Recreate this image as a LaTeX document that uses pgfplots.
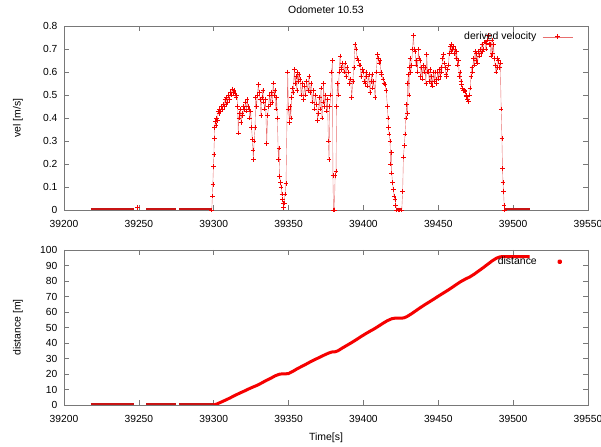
\documentclass[border=0pt]{standalone}
\usepackage{fontspec}
\setmainfont{Liberation Sans}
\usepackage{pgfplots}
\usepackage{pgfplotstable}
\pgfplotsset{compat=1.18}
\definecolor{axgray}{RGB}{120,120,120}
\definecolor{gpred}{RGB}{245,0,0}
\definecolor{gpline}{RGB}{232,110,110}
\definecolor{gpdark}{RGB}{200,20,20}
\pgfplotsset{
  velleg/.style={legend image code/.code={%
    \draw[gpline, line width=0.5bp] (0bp,0bp) -- (30bp,0bp);
    \draw[gpred, line width=0.6bp] (12.6bp,0bp) -- (17.4bp,0bp) (15bp,-2.4bp) -- (15bp,2.4bp);}},
  distleg/.style={legend image code/.code={%
    \fill[gpred] (15bp,0bp) circle (1bp);
    \path[draw=none, fill=none] (0bp,0bp) -- (30bp,0bp);}},
}
\pgfplotstableread{
t v
39249 0.01
39250 nan
39298.7 0
39299.1 0.06
39299.4 0.11
39299.8 0.19
39300.1 0.24
39300.4 0.31
39300.7 0.36
39301.0 0.385
39301.5 0.37
39302.0 0.40
39302.5 0.39
39303.0 0.43
39303.5 0.42
39304.0 0.44
39304.6 0.43
39305.2 0.45
39305.8 0.44
39306.4 0.46
39307.0 0.45
39307.5 0.48
39308.1 0.46
39308.7 0.49
39309.3 0.47
39309.9 0.50
39310.5 0.48
39311.1 0.51
39311.7 0.50
39312.3 0.526
39312.9 0.51
39313.5 0.52
39314.2 0.508
39314.8 0.49
39315.4 0.50
39316.0 0.45
39316.4 0.335
39316.8 0.40
39317.3 0.42
39317.8 0.44
39318.3 0.38
39318.8 0.42
39319.4 0.41
39320.0 0.45
39320.6 0.44
39321.2 0.47
39321.8 0.43
39322.3 0.48
39322.9 0.45
39323.5 0.44
39324.1 0.40
39324.7 0.43
39325.3 0.36
39325.8 0.306
39326.2 0.26
39326.5 0.219
39327.0 0.30
39327.6 0.36
39328.1 0.49
39328.6 0.45
39329.2 0.50
39329.8 0.545
39330.4 0.51
39331.0 0.48
39331.6 0.41
39332.2 0.49
39332.8 0.52
39333.4 0.47
39334.0 0.44
39334.6 0.48
39335.4 0.29
39336.0 0.41
39336.6 0.45
39337.2 0.50
39337.8 0.46
39338.4 0.51
39339.0 0.47
39339.8 0.552
39340.4 0.50
39340.9 0.52
39341.5 0.44
39342.0 0.49
39342.5 0.40
39343.2 0.219
39343.6 0.27
39344.1 0.146
39344.6 0.12
39345.0 0.10
39345.5 0.07
39346.0 0.045
39346.3 0.03
39346.7 0.01
39347.2 0.03
39347.6 0.07
39348.3 0.115
39349.4 0.60
39349.9 0.44
39350.6 0.38
39351.0 0.45
39351.5 0.40
39352.0 0.49
39352.5 0.53
39353.0 0.51
39353.9 0.61
39354.4 0.55
39354.9 0.58
39355.5 0.52
39356.0 0.60
39356.5 0.56
39357.0 0.59
39357.6 0.57
39358.4 0.50
39359.2 0.55
39359.9 0.48
39360.7 0.54
39361.4 0.50
39362.1 0.56
39362.9 0.52
39363.6 0.58
39364.3 0.51
39365.1 0.55
39365.8 0.47
39366.6 0.52
39367.3 0.44
39368.0 0.50
39368.8 0.46
39369.4 0.39
39369.9 0.42
39370.5 0.49
39371.0 0.44
39371.7 0.53
39372.3 0.40
39373.0 0.47
39373.3 0.55
39374.0 0.45
39374.7 0.50
39375.5 0.43
39376.0 0.48
39376.6 0.30
39377.0 0.22
39377.5 0.45
39378.2 0.50
39378.8 0.60
39379.3 0.65
39379.6 0.15
39380.0 0.0
39380.6 0.0
39381.1 0.15
39381.7 0.17
39382.1 0.45
39382.6 0.55
39383.2 0.50
39383.8 0.60
39384.4 0.67
39385.0 0.62
39385.5 0.61
39386.2 0.64
39387.0 0.60
39387.7 0.64
39388.3 0.58
39389.0 0.62
39390.0 0.60
39390.7 0.55
39391.4 0.57
39392.2 0.49
39392.9 0.56
39393.6 0.62
39394.4 0.72
39395.1 0.70
39395.8 0.66
39396.6 0.65
39397.2 0.63
39397.7 0.63
39398.4 0.58
39399.2 0.61
39400.0 0.60
39400.6 0.56
39401.1 0.55
39401.7 0.60
39402.2 0.58
39402.9 0.54
39403.6 0.59
39404.4 0.51
39405.0 0.56
39405.6 0.59
39406.2 0.53
39406.9 0.56
39407.8 0.49
39408.6 0.60
39409.3 0.675
39409.8 0.66
39410.4 0.64
39411.1 0.65
39411.7 0.60
39412.2 0.59
39413.0 0.57
39413.7 0.55
39414.4 0.545
39415.2 0.52
39416.0 0.45
39416.4 0.40
39416.7 0.36
39417.2 0.33
39417.8 0.30
39418.2 0.20
39418.6 0.25
39418.9 0.16
39419.4 0.12
39420.0 0.09
39420.5 0.06
39421.1 0.045
39421.6 0.02
39422.2 0.0
39423 0
39424 0
39425 0
39425.6 0
39426.2 0.08
39426.7 0.23
39427.3 0.28
39427.8 0.33
39428.3 0.40
39428.9 0.46
39429.3 0.42
39429.6 0.55
39430.0 0.59
39430.4 0.50
39430.7 0.62
39431.1 0.66
39431.6 0.60
39432.2 0.63
39432.8 0.70
39433.4 0.76
39433.9 0.70
39434.5 0.69
39435.0 0.63
39435.6 0.65
39436.1 0.60
39436.7 0.70
39437.2 0.66
39437.8 0.65
39438.3 0.58
39438.9 0.62
39439.4 0.57
39440.0 0.63
39440.5 0.60
39441.1 0.62
39441.7 0.55
39442.3 0.675
39442.8 0.60
39443.4 0.60
39444.0 0.56
39444.5 0.61
39445.0 0.55
39445.6 0.58
39446.2 0.54
39446.7 0.60
39447.3 0.56
39447.8 0.60
39448.4 0.57
39448.9 0.55
39449.5 0.60
39450.1 0.57
39450.6 0.61
39451.2 0.58
39451.8 0.62
39452.3 0.60
39452.8 0.66
39453.4 0.675
39454.0 0.64
39454.5 0.62
39455.1 0.59
39455.6 0.58
39456.2 0.61
39456.8 0.63
39457.3 0.68
39457.9 0.71
39458.4 0.69
39459.0 0.72
39459.6 0.70
39460.1 0.71
39460.7 0.68
39461.2 0.70
39461.8 0.66
39462.3 0.69
39462.9 0.63
39463.5 0.65
39464.0 0.58
39464.6 0.60
39465.1 0.56
39465.7 0.545
39466.2 0.53
39466.8 0.52
39467.4 0.52
39467.9 0.516
39468.5 0.50
39469.0 0.494
39469.6 0.48
39470.2 0.472
39470.7 0.50
39471.3 0.53
39471.8 0.58
39472.4 0.62
39472.9 0.60
39473.5 0.66
39474.0 0.63
39474.6 0.69
39475.1 0.65
39475.7 0.68
39476.3 0.64
39476.9 0.69
39477.4 0.67
39478.0 0.70
39478.5 0.68
39479.1 0.72
39479.6 0.69
39480.2 0.70
39480.7 0.73
39481.3 0.73
39481.8 0.70
39482.4 0.726
39483.0 0.74
39483.6 0.76
39484.1 0.72
39484.7 0.72
39485.2 0.67
39485.8 0.74
39486.3 0.68
39486.9 0.72
39487.4 0.66
39488.0 0.63
39488.5 0.60
39489.1 0.62
39489.6 0.66
39490.2 0.65
39490.8 0.62
39491.4 0.64
39492.0 0.44
39492.5 0.31
39492.9 0.18
39493.2 0.12
39493.6 0.08
39494.0 0.02
39494.3 0
}\veltable
\begin{document}
\fontsize{10.5}{12}\selectfont
\begin{tikzpicture}
\useasboundingbox (0,0) rectangle (601bp,447bp);
\pgfplotsset{
  every axis/.append style={
    scale only axis, width=524bp,
    xmin=39200, xmax=39550,
    xtick={39200,39250,...,39550},
    scaled x ticks=false,
    tick align=inside, major tick length=5bp,
    xtick pos=both, ytick pos=both,
    xticklabel pos=lower, yticklabel pos=left,
    axis line style={axgray, line width=0.6bp},
    every tick/.style={axgray, line width=0.6bp},
    /pgf/number format/assume math mode=true,
    xticklabel style={/pgf/number format/1000 sep={}, yshift=-7bp},
    yticklabel style={xshift=-3bp},
    tick label style={font=\fontsize{10.3}{12}\selectfont, text=black},
    label style={font=\fontsize{10.5}{12}\selectfont, text=black},
    every axis y label/.style={at={(axis description cs:-0.0878,0.5)}, rotate=90, anchor=center, text=black},
    every axis x label/.style={at={(axis description cs:0.5,0)}, anchor=center, yshift=-33bp, text=black},
    unbounded coords=jump,
    legend style={draw=none, fill=none, text=black, font=\fontsize{10.5}{12}\selectfont, legend plot pos=right, inner sep=0pt, at={(1,1)}, anchor=north east},
  }
}
\node[font=\fontsize{10.5}{12}\selectfont, text=black] at (326bp,437bp) {Odometer 10.53};
\begin{axis}[at={(64bp,237bp)}, anchor=south west, height=184bp,
  ymin=0, ymax=0.8, ytick={0,0.1,...,0.8},
  yticklabel style={/pgf/number format/fixed, /pgf/number format/precision=1},
  ylabel={vel [m/s]},
  legend style={xshift=-15bp, yshift=-4bp, /tikz/column sep=4bp},
]
% stationary stretches (v = 0)
\addplot[gpdark, line width=3bp, forget plot] coordinates {
(39218,0)(39247,0)(39248,nan)(39255,0)(39275,0)(39276,nan)(39277,0)(39298.7,0)(39299,nan)
(39421.9,0)(39425.6,0)(39426,nan)(39494.3,0)(39511,0)
};
\addplot[gpline, line width=0.4bp, mark=none, forget plot] table[x=t, y=v] {\veltable};
\addplot[gpred, only marks, mark=+, mark size=2.3bp, line width=0.6bp, velleg] table[x=t, y=v] {\veltable};
\addlegendentry{derived velocity}
\end{axis}
\begin{axis}[at={(64bp,42bp)}, anchor=south west, height=155bp,
  ymin=0, ymax=100, ytick={0,10,...,100},
  ylabel={distance [m]}, xlabel={Time[s]},
  legend style={xshift=-13bp, yshift=-5bp, /tikz/column sep=6bp},
]
\addplot[gpdark, line width=3bp, forget plot] coordinates {
(39218,0)(39247,0)(39248,nan)(39255,0)(39275,0)(39276,nan)(39277,0)(39300,0)
};
\addplot[gpred, line width=3bp, line join=round, distleg] coordinates {
(39300,0)(39302,0.6)(39305,1.9)(39308,3.2)(39311,4.6)(39314,6.1)(39317,7.5)(39320,8.8)(39323,10.2)
(39326,11.5)(39329,12.7)(39332,14.2)(39335,15.8)(39338,17.2)(39341,18.8)(39344,19.9)(39346,20.1)
(39348,20.1)(39350,20.3)(39353,21.8)(39356,23.5)(39359,25.0)(39362,26.5)(39365,28.1)(39368,29.5)
(39371,30.9)(39374,32.3)(39377,33.6)(39379,34.2)(39381,34.3)(39383,35.0)(39386,36.8)(39389,38.5)
(39392,40.2)(39395,42.0)(39398,43.9)(39401,45.7)(39404,47.4)(39407,49.0)(39410,50.8)(39413,52.7)
(39416,54.4)(39419,55.7)(39421,56.0)(39423,56.0)(39425,56.0)(39427,56.2)(39429,57.0)(39432,58.8)
(39435,60.8)(39438,62.8)(39441,64.7)(39444,66.5)(39447,68.3)(39450,70.2)(39453,72.0)(39456,73.8)
(39459,75.7)(39462,77.7)(39465,79.6)(39468,81.2)(39471,82.6)(39474,84.4)(39477,86.5)(39480,88.6)
(39483,90.8)(39486,93.0)(39489,94.8)(39491,95.5)(39493,95.8)(39511,95.8)
};
\addlegendentry{distance}
\end{axis}
\end{tikzpicture}
\end{document}
